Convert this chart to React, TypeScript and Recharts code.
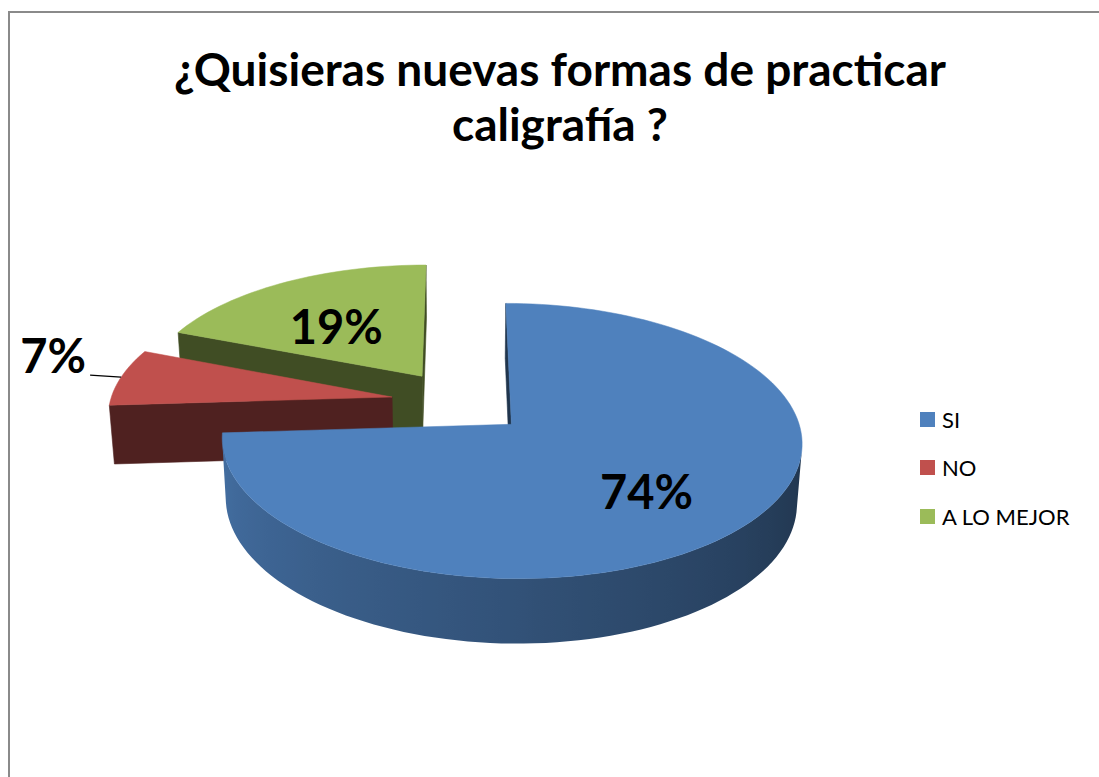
import React from "react";
import { PieChart, Pie, Cell, Legend } from "recharts";

const categories = ["SI", "NO", "A LO MEJOR"];
const shares = [74, 7, 19];
const colors = ["#4F81BD", "#C0504D", "#9BBB59"];
const titleLines = ["¿Quisieras nuevas formas de practicar", "caligrafía ?"];

const pieData = categories.map((name, i) => ({ name, value: shares[i] }));

// fake 3D: camera elevation + distance (in radii), explode and thickness (in radii)
const RAD = Math.PI / 180;
const TILT = 27.5 * RAD;
const CAM = 7.45;
const EXPLODE = 0.245;
const DEPTH = 0.238;
const SIN_T = Math.sin(TILT);
const COS_T = Math.cos(TILT);

function project(cx: number, cy: number, r: number, x: number, h: number, z: number) {
  const w = CAM + z * COS_T - h * SIN_T;
  const f = r * CAM;
  return [cx + (f * x) / w, cy - (f * (h * COS_T + z * SIN_T)) / w];
}

function shade(hex: string, k: number) {
  const n = parseInt(hex.slice(1), 16);
  const ch = (v: number) => Math.round(Math.min(255, v * k));
  return `rgb(${ch((n >> 16) & 255)},${ch((n >> 8) & 255)},${ch(n & 255)})`;
}

// wall brightness by angle: lit on the left, dark on the right
const wallShade = (deg: number) => {
  const d = ((deg % 360) + 360) % 360;
  return Math.max(0.36, Math.min(0.9, 0.88 - ((d - 180) / 180) * 0.5));
};

const toPath = (list: number[][]) =>
  "M" + list.map((p) => p[0].toFixed(2) + "," + p[1].toFixed(2)).join("L") + "Z";

function Slice3D(props: any) {
  const { cx, cy, outerRadius, startAngle, endAngle, midAngle, fill, percent, index } = props;
  const m = midAngle * RAD;
  const ox = EXPLODE * Math.cos(m);
  const oz = EXPLODE * Math.sin(m);
  const P = (a: number, h: number, k = 1) =>
    project(cx, cy, outerRadius, ox + k * Math.cos(a * RAD), h, oz + k * Math.sin(a * RAD));

  const apexTop = P(0, 0, 0);
  const apexBottom = P(0, -DEPTH, 0);
  const steps = Math.max(2, Math.ceil(Math.abs(endAngle - startAngle) / 2));
  const angles = Array.from({ length: steps + 1 }, (_, i) => startAngle + ((endAngle - startAngle) * i) / steps);
  const dir = Math.sign(endAngle - startAngle) || 1;
  const dark = shade(fill, 0.41);
  const parts: React.ReactNode[] = [];
  const defs: React.ReactNode[] = [];

  // cut faces (only the ones turned to the camera)
  [
    [startAngle, startAngle - dir * 90],
    [endAngle, endAngle + dir * 90],
  ].forEach(([a, n], i) => {
    const b = n * RAD;
    const facing = -ox * Math.cos(b) - (CAM * COS_T + oz) * Math.sin(b);
    if (facing > 0) {
      parts.push(
        <path key={"cut" + i} d={toPath([apexTop, P(a, 0), P(a, -DEPTH), apexBottom])} fill={dark} stroke={dark} strokeWidth={0.6} />
      );
    }
  });

  // outer wall: visible samples grouped into runs, each filled with a horizontal gradient
  const visible = angles.map((a) => -1 - ox * Math.cos(a * RAD) - (oz + CAM * COS_T) * Math.sin(a * RAD) > 0);
  const runs: number[][] = [];
  let cur: number[] = [];
  angles.forEach((a, i) => {
    if (visible[i]) cur.push(a);
    else if (cur.length) {
      runs.push(cur);
      cur = [];
    }
  });
  if (cur.length) runs.push(cur);

  runs
    .filter((run) => run.length > 1)
    .forEach((run, r) => {
      const top = run.map((a) => P(a, 0));
      const bottom = run.map((a) => P(a, -DEPTH));
      const xs = top.map((p) => p[0]);
      const x0 = Math.min(...xs);
      const x1 = Math.max(...xs);
      const id = `wall-${index}-${r}`;
      const stops = run
        .map((a, i) => ({ off: (xs[i] - x0) / Math.max(1, x1 - x0), color: shade(fill, wallShade(a)) }))
        .sort((s1, s2) => s1.off - s2.off);
      defs.push(
        <linearGradient key={id} id={id} gradientUnits="userSpaceOnUse" x1={x0} y1={0} x2={x1} y2={0}>
          {stops.map((s, i) => (
            <stop key={i} offset={s.off} stopColor={s.color} />
          ))}
        </linearGradient>
      );
      parts.push(<path key={id} d={toPath([...top, ...bottom.reverse()])} fill={`url(#${id})`} />);
    });

  parts.push(<path key="top" d={toPath([apexTop, ...angles.map((a) => P(a, 0))])} fill={fill} stroke={fill} strokeWidth={0.5} />);

  const text = `${Math.round(percent * 100)}%`;
  const labelStyle = { fontFamily: "Lato, sans-serif", fontWeight: 700, fontSize: 47, fill: "#000" };
  if (percent >= 0.1) {
    const [lx, ly] = P(midAngle, 0, 0.6);
    parts.push(
      <text key="lbl" x={lx} y={ly + 8} textAnchor="middle" dominantBaseline="central" style={labelStyle}>
        {text}
      </text>
    );
  } else {
    const [rx, ry] = P(midAngle, 0);
    parts.push(
      <path key="lead" d={`M${rx},${ry}L${rx - 31},${ry - 2}`} stroke="#000" strokeWidth={1.3} fill="none" />,
      <text key="lbl" x={rx - 35} y={ry - 4} textAnchor="end" style={labelStyle}>
        {text}
      </text>
    );
  }

  return (
    <g>
      <defs>{defs}</defs>
      {parts}
    </g>
  );
}

function LegendBox(props: any) {
  const items = (props.payload || [])
    .filter((p: any) => p.type !== "none" && categories.includes(p.value))
    .filter((p: any, i: number, all: any[]) => all.findIndex((q: any) => q.value === p.value) === i)
    .sort((a: any, b: any) => categories.indexOf(a.value) - categories.indexOf(b.value));
  return (
    <div style={{ fontFamily: "Lato, sans-serif", fontSize: 22, color: "#000" }}>
      {items.map((p: any) => (
        <div key={p.value} style={{ height: 48.5, display: "flex", alignItems: "center" }}>
          <span style={{ width: 15, height: 15, background: p.color, marginRight: 7, display: "inline-block" }} />
          <span>{p.value}</span>
        </div>
      ))}
    </div>
  );
}

export default function App() {
  return (
    <div
      style={{
        position: "fixed",
        left: 8,
        top: 11,
        width: 1091,
        height: 766,
        boxSizing: "border-box",
        borderTop: "2px solid #8a8a8a",
        borderLeft: "2px solid #8a8a8a",
        background: "#fff",
        overflow: "hidden",
      }}
    >
      <PieChart width={1089} height={764} margin={{ top: 0, right: 0, bottom: 0, left: 0 }}>
        {/* back slices first so the front one covers them */}
        {[2, 1, 0].map((layer) => (
          <Pie
            key={layer}
            data={pieData}
            dataKey="value"
            nameKey="name"
            cx={450}
            cy={389}
            outerRadius={282}
            startAngle={90}
            endAngle={-270}
            stroke="none"
            fillOpacity={0}
            labelLine={false}
            legendType={layer === 0 ? "square" : "none"}
            label={(p: any) => (p.index === layer ? <Slice3D {...p} /> : null)}
            isAnimationActive={false}
          >
            {pieData.map((d, i) => (
              <Cell key={d.name} fill={colors[i]} />
            ))}
          </Pie>
        ))}
        <Legend
          layout="vertical"
          align="right"
          verticalAlign="top"
          wrapperStyle={{ left: 910, top: 382, width: 170 }}
          content={LegendBox}
        />
      </PieChart>
      <div
        style={{
          position: "absolute",
          left: 50,
          top: 28,
          width: 1000,
          textAlign: "center",
          fontFamily: "Lato, sans-serif",
          fontWeight: 700,
          fontSize: 46,
          lineHeight: "55px",
          color: "#000",
        }}
      >
        {titleLines.map((l) => (
          <div key={l}>{l}</div>
        ))}
      </div>
    </div>
  );
}
